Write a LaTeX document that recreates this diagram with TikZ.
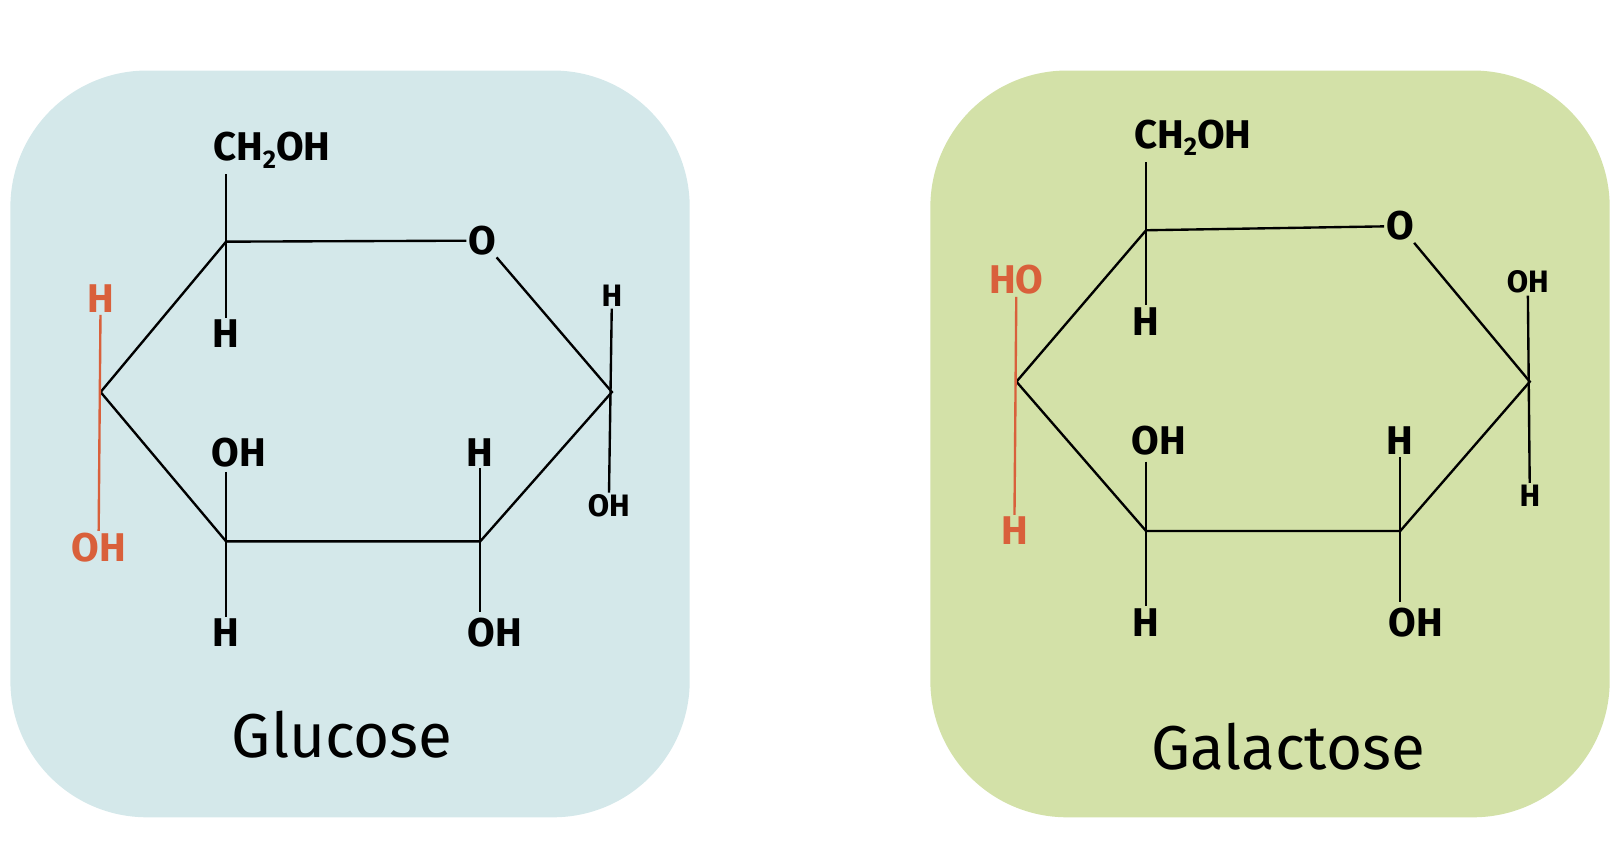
\documentclass[tikz,border=0pt]{standalone}
\usepackage{fontspec}
\setmainfont{Fira Sans}
\definecolor{gbox}{HTML}{D4E8EA}
\definecolor{lbox}{HTML}{D3E1A8}
\definecolor{redc}{HTML}{D9603B}
\begin{document}
\begin{tikzpicture}[x=0.02cm,y=-0.02cm,
  bond/.style={line width=1.3pt,black},
  rbond/.style={line width=1.3pt,redc},
  atom/.style={inner sep=1pt,font=\fontsize{22}{22}\selectfont\bfseries},
  sat/.style={inner sep=1pt,font=\fontsize{17}{17}\selectfont\bfseries},
  ratom/.style={atom,text=redc},
  ttl/.style={font=\fontsize{34}{34}\selectfont}]
\useasboundingbox (0,0) rectangle (1560,818);
\fill[gbox,rounded corners=75] (10,68) rectangle (665,788);
\fill[lbox,rounded corners=75] (897,68) rectangle (1552,788);
% Glucose
\coordinate (g5) at (218,233); \coordinate (g1) at (590,378);
\coordinate (g2) at (463,522); \coordinate (g3) at (218,522); \coordinate (g4) at (97,378);
\node[atom] (gO) at (465,232) {O};
\draw[bond] (g5) -- (gO) -- (g1) -- (g2) -- (g3) -- (g4) -- (g5);
\node[atom] (gch) at (262,145) {CH\raisebox{-0.35ex}{\fontsize{14}{14}\selectfont 2}OH};
\draw[bond] (g5) -- (218,168);
\node[atom] (gh5) at (218,322) {H}; \draw[bond] (g5) -- (gh5);
\node[ratom] (gh4) at (97,288) {H}; \node[ratom] (goh4) at (95,528) {OH};
\draw[rbond] (gh4) -- (goh4);
\node[sat] (gh1) at (590,285) {H}; \node[sat] (goh1) at (587,488) {OH};
\draw[bond] (gh1) -- (goh1);
\node[atom] (goh3) at (230,436) {OH}; \node[atom] (gh3) at (218,610) {H};
\draw[bond] (218,455) -- (gh3);
\node[atom] (gh2) at (463,436) {H}; \node[atom] (goh2) at (477,610) {OH};
\draw[bond] (gh2) -- (463,590);
\node[ttl] (gt) at (330,708) {Glucose};
% Galactose
\coordinate (l5) at (1105,222); \coordinate (l1) at (1475,368);
\coordinate (l2) at (1350,512); \coordinate (l3) at (1105,512); \coordinate (l4) at (980,368);
\node[atom] (lO) at (1350,218) {O};
\draw[bond] (l5) -- (lO) -- (l1) -- (l2) -- (l3) -- (l4) -- (l5);
\node[atom] (lch) at (1150,133) {CH\raisebox{-0.35ex}{\fontsize{14}{14}\selectfont 2}OH};
\draw[bond] (l5) -- (1105,156);
\node[atom] (lh5) at (1105,310) {H}; \draw[bond] (l5) -- (lh5);
\node[ratom] (lho4) at (980,270) {HO}; \node[ratom] (lh4) at (978,512) {H};
\draw[rbond] (lho4) -- (lh4);
\node[sat] (loh1) at (1473,272) {OH}; \node[sat] (lh1) at (1475,478) {H};
\draw[bond] (loh1) -- (lh1);
\node[atom] (loh3) at (1117,425) {OH}; \node[atom] (lh3) at (1105,600) {H};
\draw[bond] (1105,445) -- (lh3);
\node[atom] (lh2) at (1350,425) {H}; \node[atom] (loh2) at (1365,600) {OH};
\draw[bond] (lh2) -- (1350,580);
\node[ttl] (lt) at (1242,720) {Galactose};
\end{tikzpicture}
\end{document}
